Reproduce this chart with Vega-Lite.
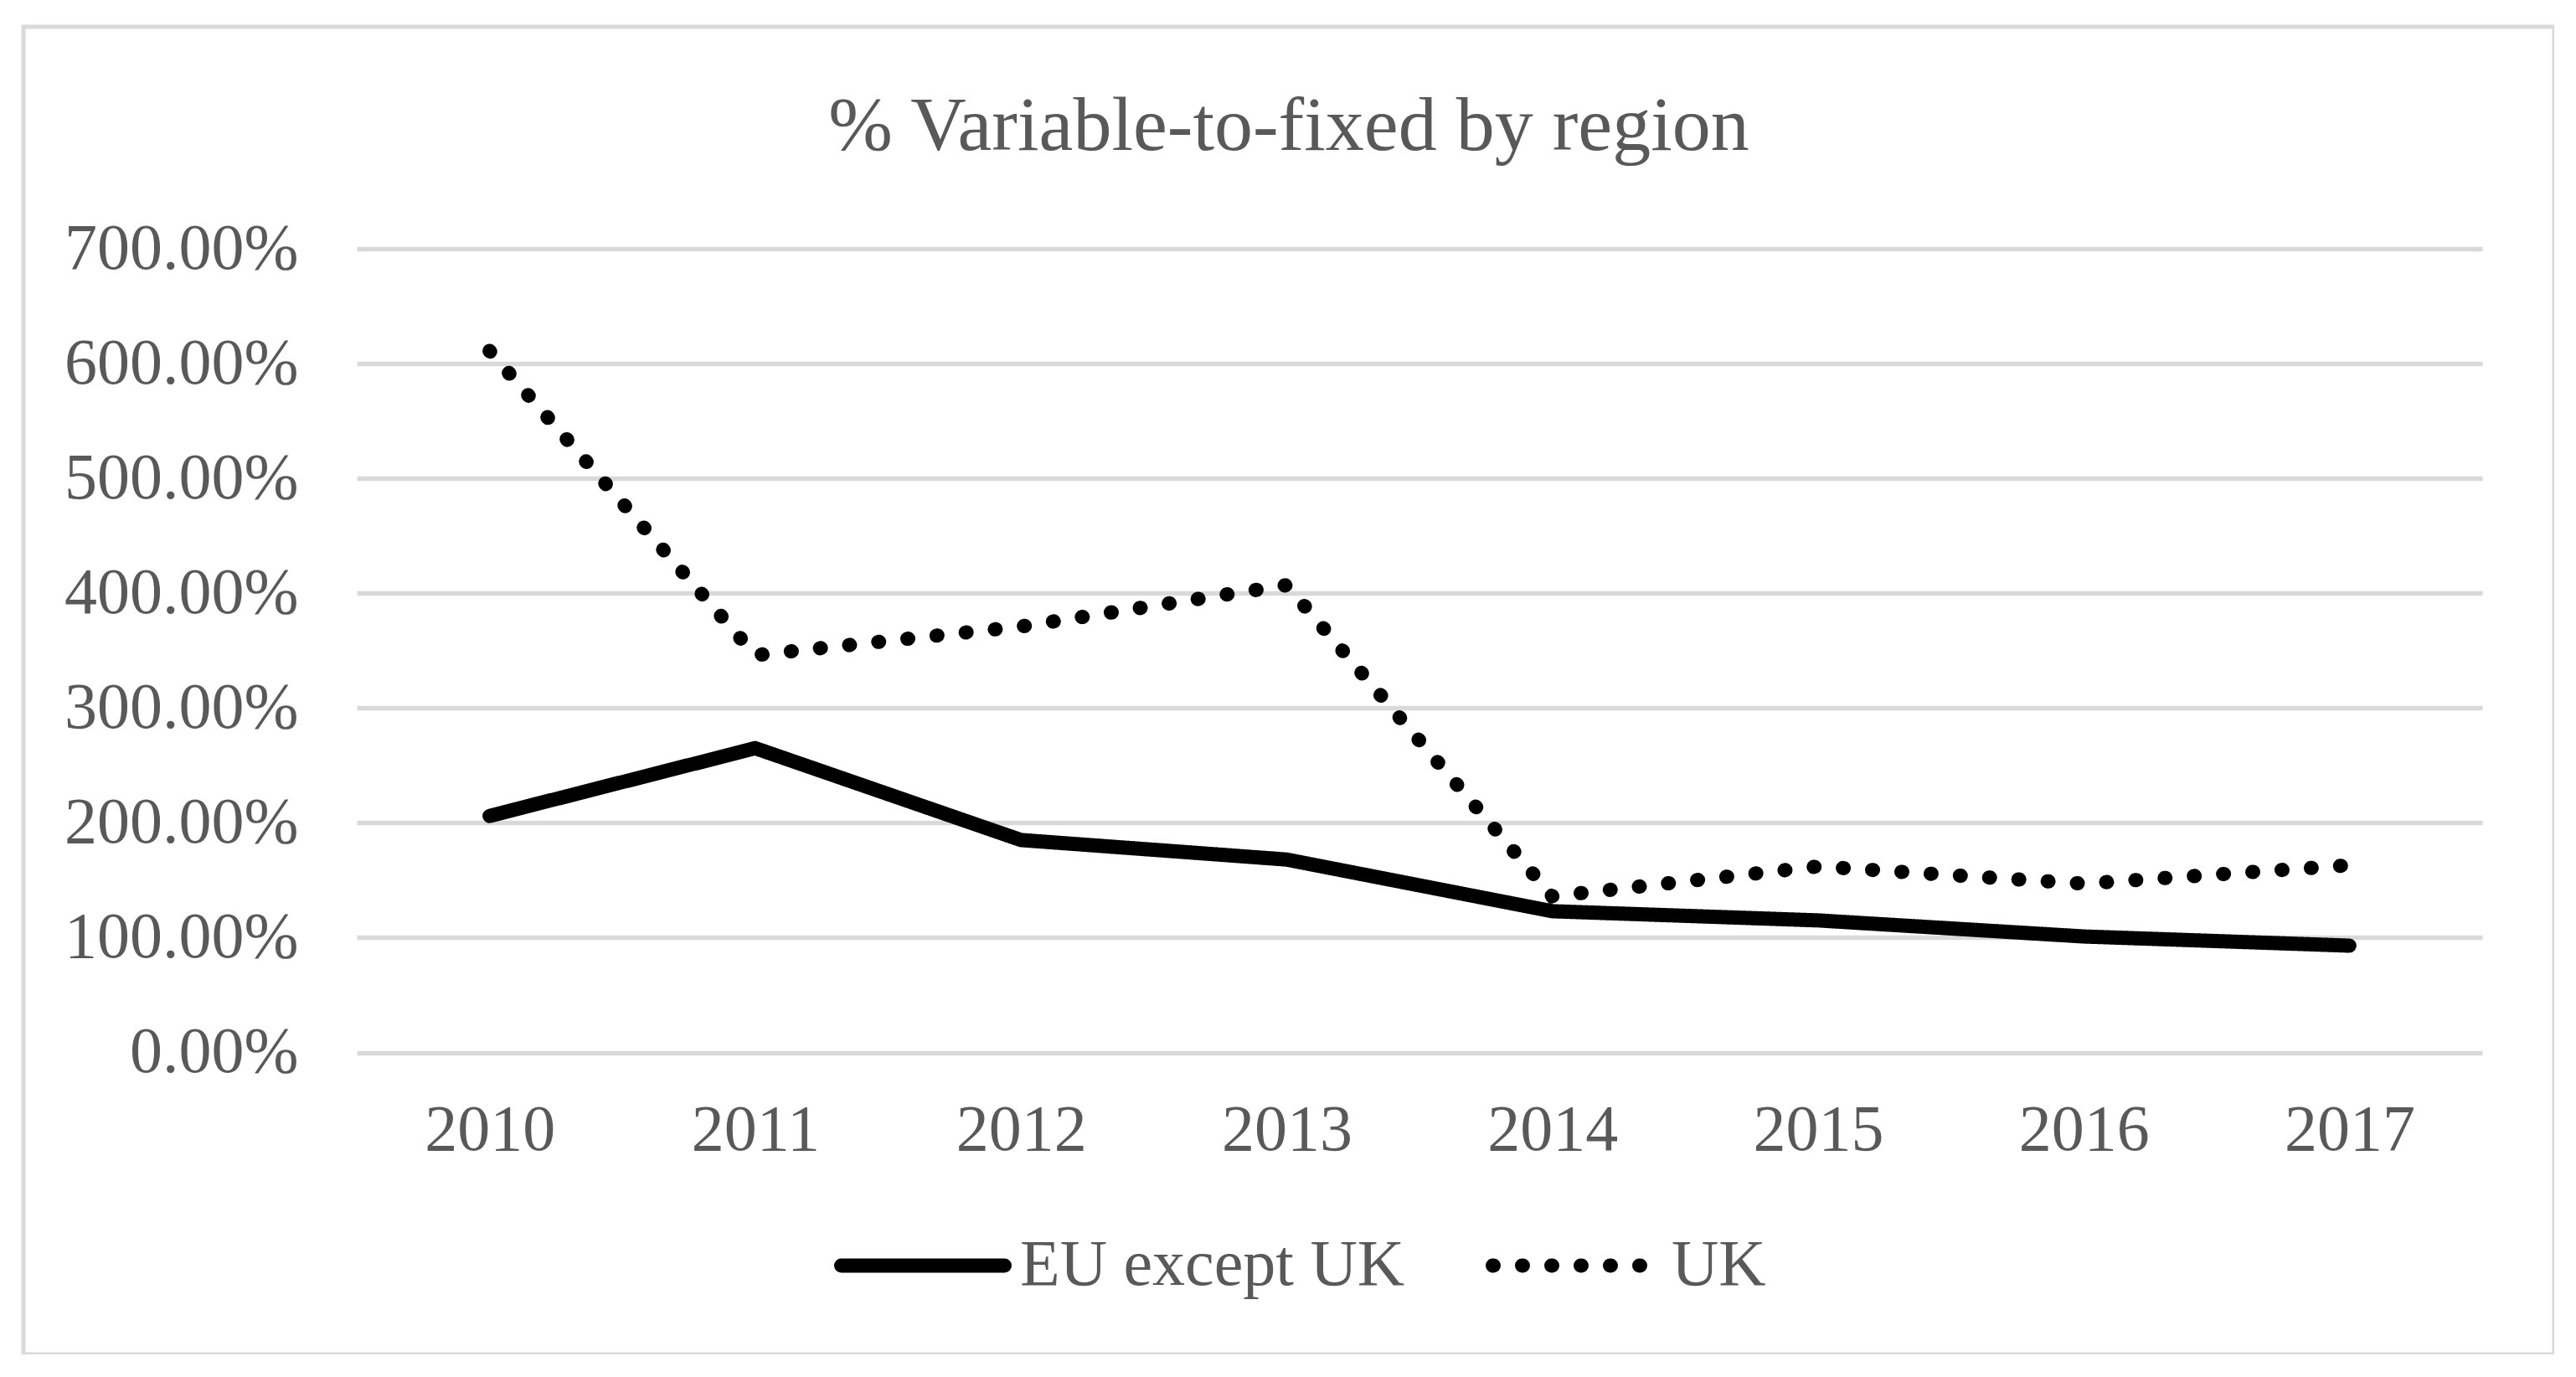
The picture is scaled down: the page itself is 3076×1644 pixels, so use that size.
{
  "$schema": "https://vega.github.io/schema/vega-lite/v6.json",
  "width": 3022,
  "height": 1585,
  "autosize": {"type": "none"},
  "padding": {"left": 28, "top": 32, "right": 0, "bottom": 0},
  "background": "white",
  "title": {
    "text": "% Variable-to-fixed by region",
    "fontSize": 92,
    "font": "Liberation Serif",
    "fontWeight": "normal",
    "color": "#595959",
    "anchor": "middle",
    "frame": "group",
    "offset": -239,
    "baseline": "alphabetic"
  },
  "data": {
    "values": [
      {"year": "2010", "region": "EU except UK", "value": 2.06},
      {"year": "2011", "region": "EU except UK", "value": 2.65},
      {"year": "2012", "region": "EU except UK", "value": 1.85},
      {"year": "2013", "region": "EU except UK", "value": 1.68},
      {"year": "2014", "region": "EU except UK", "value": 1.23},
      {"year": "2015", "region": "EU except UK", "value": 1.15},
      {"year": "2016", "region": "EU except UK", "value": 1.01},
      {"year": "2017", "region": "EU except UK", "value": 0.93},
      {"year": "2010", "region": "UK", "value": 6.11},
      {"year": "2011", "region": "UK", "value": 3.46},
      {"year": "2012", "region": "UK", "value": 3.71},
      {"year": "2013", "region": "UK", "value": 4.07},
      {"year": "2014", "region": "UK", "value": 1.36},
      {"year": "2015", "region": "UK", "value": 1.62},
      {"year": "2016", "region": "UK", "value": 1.47},
      {"year": "2017", "region": "UK", "value": 1.63}
    ]
  },
  "mark": {"type": "line", "strokeWidth": 17, "strokeCap": "round", "strokeJoin": "miter", "color": "black"},
  "encoding": {
    "x": {
      "field": "year",
      "type": "ordinal",
      "scale": {"type": "point", "range": [398, 2936], "padding": 0.5},
      "axis": {
        "orient": "bottom",
        "offset": -360.5,
        "title": null,
        "labelAngle": 0,
        "ticks": false,
        "domain": false,
        "grid": false,
        "labelPadding": 54,
        "labelFont": "Liberation Serif",
        "labelFontSize": 78,
        "labelColor": "#595959",
        "labelOverlap": false,
        "labelLimit": 0
      }
    },
    "y": {
      "field": "value",
      "type": "quantitative",
      "scale": {"domain": [0, 7], "range": [1224.5, 265], "nice": false},
      "axis": {
        "orient": "left",
        "offset": -398,
        "title": null,
        "values": [0, 1, 2, 3, 4, 5, 6, 7],
        "format": ".2%",
        "ticks": false,
        "domain": false,
        "grid": true,
        "gridColor": "#d9d9d9",
        "gridWidth": 5.5,
        "labelPadding": 70,
        "labelFont": "Liberation Serif",
        "labelFontSize": 78,
        "labelColor": "#595959",
        "labelOverlap": false,
        "labelLimit": 0
      }
    },
    "strokeDash": {
      "field": "region",
      "type": "nominal",
      "scale": {"domain": ["EU except UK", "UK"], "range": [[1, 0], [1, 34]]},
      "legend": {
        "orient": "none",
        "legendX": 968,
        "legendY": 1373,
        "direction": "horizontal",
        "title": null,
        "symbolType": "stroke",
        "symbolSize": 38025,
        "symbolStrokeWidth": 17,
        "symbolStrokeColor": "black",
        "labelFont": "Liberation Serif",
        "labelFontSize": 78,
        "labelColor": "#595959",
        "labelOffset": 10,
        "columnPadding": 70,
        "padding": 0,
        "labelLimit": 0,
        "encode": {"symbols": {"update": {"strokeCap": {"value": "round"}}}}
      }
    }
  },
  "config": {
    "view": {"stroke": "#d9d9d9", "strokeWidth": 5, "fill": "white"}
  }
}
